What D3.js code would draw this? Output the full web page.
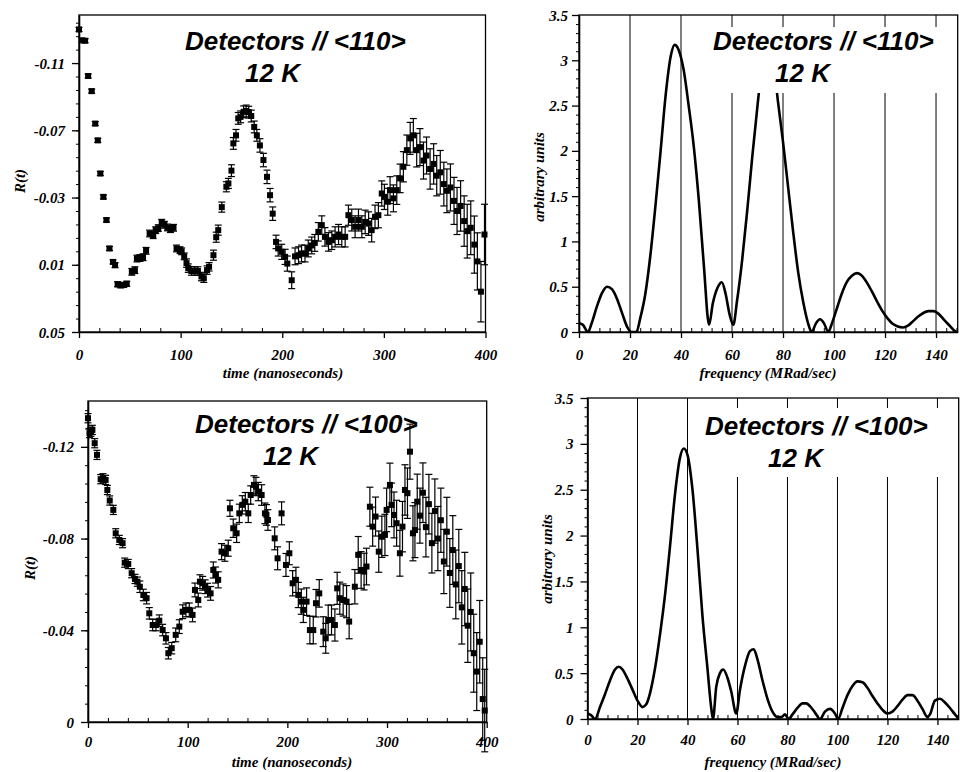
<!DOCTYPE html>
<html>
<head>
<meta charset="utf-8">
<script src="https://cdn.jsdelivr.net/npm/d3@7"></script>
<style>
  body { margin: 0; background: #fff; }
  svg { display: block; }
</style>
</head>
<body>
<svg id="chart" width="960" height="772"></svg>
<script>
// ---------- Detectors // <110>, 12 K : R(t) with error bars ----------
const tlTime = [0,3,6,9,12.5,16,18.5,21,24,27,30,33.5,35.5,38,41,44,47,52,55,57,60,63,66,69.5,73,75.5,78,81.4,84,87,90,93,96,99.4,101,103.5,105.8,107.5,110.6,114,117,120.5,122.8,126,128,132.3,135,137,140.5,145,147,150,151.9,154.5,156.7,159,162,164.5,167,169.5,172.4,175,178,181.5,185,188,190.6,193.9,196,199.5,202.8,205,209.3,212.6,216,219,222.4,225.6,229,232,235.5,238.9,242,245.5,248.8,252,255.4,258.6,261.9,265.1,268.4,271.7,275,278.3,281.6,285,288,291.3,294.6,297.9,300.5,303.8,306.1,309.4,312.7,316,319.2,322.6,325.9,329,332.3,335.5,339,342,345.5,349,352,355.5,359,362,365.5,369,372,375.5,379,382,385.5,389,392,395.5,399];
const tlR = [-0.130,-0.1235,-0.1233,-0.1023,-0.0933,-0.074,-0.064,-0.0443,-0.0304,-0.0166,0.0003,0.0083,0.0102,0.0216,0.0222,0.022,0.0213,0.0142,0.0132,0.0063,0.006,0.0055,0.0017,-0.0086,-0.0076,-0.0106,-0.0118,-0.015,-0.0138,-0.0122,-0.0112,-0.012,0.0003,0.0013,0.002,0.005,0.009,0.012,0.0137,0.0137,0.0137,0.017,0.018,0.0132,0.0112,0.0043,-0.0064,-0.0106,-0.0243,-0.0364,-0.0384,-0.046,-0.0622,-0.067,-0.0771,-0.078,-0.081,-0.0815,-0.0808,-0.0785,-0.072,-0.067,-0.061,-0.0523,-0.0423,-0.0314,-0.0204,-0.0036,0.0003,0.0023,0.0053,0.0093,0.0192,0.005,0.0043,0.0033,0.0033,0.0003,-0.0015,-0.003,-0.0096,-0.0136,-0.0066,-0.0036,-0.0046,-0.0066,-0.008,-0.0066,-0.0066,-0.0195,-0.0166,-0.0126,-0.0166,-0.0126,-0.0155,-0.0145,-0.0106,-0.0185,-0.0195,-0.0324,-0.0304,-0.0275,-0.0344,-0.0295,-0.0344,-0.0414,-0.0483,-0.0582,-0.0652,-0.067,-0.0582,-0.060,-0.052,-0.055,-0.047,-0.050,-0.043,-0.045,-0.038,-0.034,-0.036,-0.028,-0.022,-0.025,-0.016,-0.010,-0.012,-0.002,0.008,0.026,-0.008];
const tlErr = [0.0012,0.0012,0.0012,0.0012,0.0012,0.0012,0.0012,0.0012,0.0012,0.0012,0.0012,0.0012,0.0015,0.0015,0.0015,0.0015,0.0015,0.002,0.002,0.002,0.002,0.002,0.002,0.002,0.002,0.002,0.002,0.002,0.002,0.002,0.002,0.002,0.002,0.002,0.002,0.002,0.0025,0.0025,0.0025,0.0025,0.0025,0.0025,0.0025,0.0025,0.0025,0.003,0.003,0.003,0.003,0.003,0.003,0.0035,0.0035,0.0035,0.0035,0.0035,0.0035,0.0035,0.0035,0.0035,0.0035,0.0035,0.004,0.004,0.004,0.004,0.004,0.004,0.0045,0.0045,0.0045,0.0045,0.005,0.005,0.005,0.005,0.005,0.005,0.005,0.005,0.0055,0.0055,0.0055,0.0055,0.0055,0.006,0.006,0.006,0.006,0.006,0.0065,0.0065,0.0065,0.0065,0.007,0.007,0.007,0.007,0.0075,0.0075,0.0075,0.008,0.008,0.008,0.0085,0.0085,0.009,0.009,0.0095,0.01,0.01,0.011,0.011,0.011,0.012,0.012,0.012,0.013,0.013,0.013,0.014,0.014,0.014,0.015,0.015,0.016,0.016,0.017,0.017,0.018,0.018];

// ---------- Detectors // <100>, 12 K : R(t) with error bars ----------
const blTime = [0,1.5,3,4.4,6.7,9,12.7,15,17.7,19.4,21.8,25.4,27.8,31.4,34.7,36.8,40.4,43.8,47.1,49.5,52,55.5,58.8,61.5,64.9,68.2,71.5,74.9,78.2,80.6,84,88,91.6,95,98.3,101.6,104.9,107.3,110.6,112.3,115,117.5,120,123,125.7,128,130.6,134,137.3,140.7,142.4,145.7,149.1,151.8,154.8,157.8,160.8,163.2,166.5,168.5,170.8,174.2,177.5,179,180.5,187.3,190.2,194.2,198.6,202,205.3,208.6,211,214,216,219.3,222.6,226,228.7,232,236,238.5,241,244.3,247.7,250,252.6,256,259.4,262,267.7,271.1,274,277,279.4,282.8,285.6,288.5,291.7,294.8,297.9,299.6,302.9,304.6,307,309.6,312.9,315.5,318,320.5,323,326,328,330.3,333,336,339,342,345,348,351,354,357,360,363,366,369,372,375,378,381,384,387,390,393,396,398];
const blR = [-0.1325,-0.126,-0.1266,-0.1274,-0.1216,-0.1165,-0.1059,-0.1063,-0.1056,-0.1012,-0.0966,-0.0925,-0.0823,-0.0794,-0.078,-0.0695,-0.0689,-0.0649,-0.0624,-0.0612,-0.059,-0.0554,-0.054,-0.0474,-0.0423,-0.0423,-0.0442,-0.0401,-0.0365,-0.030,-0.0322,-0.038,-0.0416,-0.0481,-0.0489,-0.0489,-0.0467,-0.0576,-0.0532,-0.0612,-0.0605,-0.059,-0.0575,-0.0561,-0.0663,-0.0641,-0.062,-0.0743,-0.0736,-0.0758,-0.0932,-0.0845,-0.0823,-0.091,-0.0947,-0.0961,-0.091,-0.099,-0.1034,-0.1027,-0.1005,-0.099,-0.091,-0.0903,-0.0881,-0.0801,-0.0714,-0.091,-0.0685,-0.0736,-0.0605,-0.062,-0.0554,-0.0525,-0.0489,-0.0525,-0.0401,-0.0401,-0.0518,-0.0561,-0.0394,-0.0365,-0.0445,-0.0445,-0.0423,-0.0583,-0.054,-0.0532,-0.0525,-0.0438,-0.059,-0.0729,-0.0663,-0.0656,-0.0678,-0.0939,-0.0852,-0.0896,-0.0743,-0.0808,-0.0816,-0.0925,-0.1034,-0.0947,-0.0903,-0.0867,-0.0736,-0.0852,-0.1012,-0.0998,-0.1179,-0.0823,-0.0837,-0.0961,-0.090,-0.100,-0.085,-0.095,-0.078,-0.092,-0.080,-0.088,-0.070,-0.083,-0.065,-0.075,-0.060,-0.068,-0.050,-0.058,-0.042,-0.048,-0.030,-0.022,-0.035,-0.010,-0.005];
const blErr = [0.002,0.002,0.002,0.002,0.002,0.002,0.002,0.002,0.002,0.002,0.002,0.002,0.002,0.002,0.002,0.002,0.002,0.002,0.002,0.002,0.0025,0.0025,0.0025,0.0025,0.0025,0.0025,0.0025,0.0025,0.0025,0.0025,0.0025,0.003,0.003,0.003,0.003,0.003,0.003,0.003,0.003,0.003,0.003,0.003,0.003,0.003,0.0035,0.0035,0.0035,0.0035,0.0035,0.0035,0.0035,0.004,0.004,0.004,0.004,0.004,0.004,0.004,0.004,0.004,0.004,0.0045,0.0045,0.0045,0.0045,0.005,0.005,0.005,0.005,0.005,0.0055,0.0055,0.0055,0.0055,0.0055,0.006,0.006,0.006,0.006,0.006,0.0065,0.0065,0.0065,0.0065,0.007,0.007,0.007,0.007,0.007,0.0075,0.0075,0.008,0.008,0.008,0.008,0.0085,0.0085,0.0085,0.009,0.009,0.009,0.0095,0.0095,0.0095,0.01,0.01,0.01,0.011,0.011,0.011,0.012,0.012,0.012,0.012,0.012,0.013,0.013,0.013,0.013,0.014,0.014,0.014,0.014,0.015,0.015,0.015,0.015,0.016,0.016,0.016,0.016,0.017,0.017,0.017,0.018,0.018,0.018];

// ---------- Fourier spectra ----------
const freq110 = [0,1.5,3.5,5,7,9,11,13,15,17,19,20.5,22.5,24,26,28,30,32,34,36,37.5,39,41,43,45,47,49,51,52.5,54.5,56,57.5,59,60.5,62,64,66,68,70,72,74,76,78,80,82,84,86,88,90,91.2,93,94.5,96,97.8,99,101,103,105,107,109,111,113,115,117,119,121,123,125,127,129,131,133,135,137,139,141,143,145,147,148];
const amp110  = [0.1,0.08,0.0,0.1,0.28,0.43,0.5,0.47,0.36,0.2,0.05,0.0,0.0,0.15,0.42,0.85,1.4,2.0,2.62,3.05,3.17,3.12,2.9,2.5,2.05,1.45,0.72,0.08,0.32,0.5,0.55,0.42,0.2,0.08,0.35,0.8,1.35,1.95,2.5,3.0,3.25,3.05,2.55,2.1,1.6,1.1,0.65,0.32,0.08,0.0,0.1,0.14,0.1,0.0,0.08,0.25,0.42,0.55,0.62,0.65,0.62,0.54,0.44,0.33,0.23,0.15,0.09,0.06,0.05,0.07,0.12,0.17,0.21,0.23,0.23,0.2,0.14,0.08,0.02,0.0];
const freq100 = [0,1.5,3,5,7,9,11,12.5,14,16,18,20,22,23.5,25,27,29,31,33,35,37,38.5,40,42,44,46,48,49.5,50.2,51.5,53,54.3,56,57.5,59.5,61,63,65,66.5,68,70,72,74,76,77.5,79,80.5,82,84,86,87.5,89,91,93,95,97,99,100.3,102,104,106,108,110,112,114,116,118,120,122,124,126,128,130,132,134,136,137,139,141,143,145,147,148.5];
const amp100  = [0.06,0.04,0.0,0.13,0.27,0.42,0.54,0.57,0.54,0.44,0.32,0.2,0.13,0.16,0.28,0.55,0.92,1.35,1.88,2.45,2.85,2.95,2.88,2.5,1.85,1.12,0.55,0.12,0.0,0.35,0.5,0.54,0.45,0.3,0.06,0.32,0.58,0.74,0.76,0.65,0.42,0.22,0.08,0.02,0.02,0.05,0.0,0.05,0.12,0.17,0.17,0.14,0.07,0.0,0.08,0.11,0.06,0.0,0.12,0.26,0.36,0.41,0.4,0.34,0.25,0.17,0.1,0.06,0.08,0.14,0.21,0.26,0.26,0.2,0.11,0.02,0.05,0.2,0.22,0.18,0.12,0.05,0.0];

// ---------- axis ticks and labels ----------
const timeTicks = [0, 100, 200, 300, 400];
const timeTickLabels = ["0", "100", "200", "300", "400"];
const r110Ticks = [-0.11, -0.07, -0.03, 0.01, 0.05];
const r110TickLabels = ["-0.11", "-0.07", "-0.03", "0.01", "0.05"];
const r100Ticks = [0, -0.04, -0.08, -0.12];
const r100TickLabels = ["0", "-0.04", "-0.08", "-0.12"];
const freqTicks = [0, 20, 40, 60, 80, 100, 120, 140];
const freqTickLabels = ["0", "20", "40", "60", "80", "100", "120", "140"];
const ampTicks = [0, 0.5, 1, 1.5, 2, 2.5, 3, 3.5];
const ampTickLabels = ["0", "0.5", "1", "1.5", "2", "2.5", "3", "3.5"];
const gridFreqs = [20, 40, 60, 80, 100, 120, 140];

const SERIF = '"Liberation Serif","Times New Roman",serif';
const SANS = '"Liberation Sans",Arial,sans-serif';
const svg = d3.select("#chart");

function minorValues(lo, hi, start, step) {
  const out = [];
  for (let v = start; v <= hi + 1e-9; v += step) if (v >= lo - 1e-9) out.push(+v.toFixed(6));
  return out;
}

function styleText(sel, size) {
  sel.attr("font-family", SERIF).attr("font-weight", "bold").attr("font-style", "italic")
     .attr("font-size", size).attr("fill", "#000");
}

// frame, axes, tick marks and axis titles of one panel
function panelFrame(g, x, y, o) {
  const [x0, x1] = x.range();
  const yb = y.range()[0], yt = y.range()[1];
  g.append("rect").attr("x", x0).attr("y", yt).attr("width", x1 - x0).attr("height", yb - yt)
    .attr("fill", "none").attr("stroke", "#000").attr("stroke-width", 1.3);

  // bottom axis
  const bx = g.append("g").attr("transform", `translate(0,${yb})`)
    .call(d3.axisBottom(x).tickValues(o.xTicks).tickSizeInner(6).tickSizeOuter(0)
      .tickFormat((d, i) => o.xLabels[i]));
  bx.select(".domain").attr("stroke-width", 1.6);
  bx.selectAll(".tick line").attr("stroke-width", 1.3);
  bx.selectAll(".tick text").attr("y", o.xLabelY).attr("dy", null).call(styleText, 15);
  g.append("g").attr("transform", `translate(0,${yb})`)
    .call(d3.axisBottom(x).tickValues(o.xMinor).tickSizeInner(-4).tickSizeOuter(0).tickFormat(""))
    .call(s => s.select(".domain").remove())
    .selectAll("line").attr("stroke-width", 1);

  // left axis
  const ly = g.append("g").attr("transform", `translate(${x0},0)`)
    .call(d3.axisLeft(y).tickValues(o.yTicks).tickSizeInner(7).tickSizeOuter(0)
      .tickFormat((d, i) => o.yLabels[i]));
  ly.select(".domain").attr("stroke-width", 1.6);
  ly.selectAll(".tick line").attr("stroke-width", 1.3);
  ly.selectAll(".tick text").attr("x", -o.yLabelGap).attr("dy", "0.34em").call(styleText, 15);
  g.append("g").attr("transform", `translate(${x0},0)`)
    .call(d3.axisLeft(y).tickValues(o.yMinor).tickSizeInner(3).tickSizeOuter(0).tickFormat(""))
    .call(s => s.select(".domain").remove())
    .selectAll("line").attr("stroke-width", 1);

  // axis titles
  g.append("text").attr("x", o.xTitlePos[0]).attr("y", o.xTitlePos[1])
    .attr("text-anchor", "middle").text(o.xTitle).call(styleText, 15);
  g.append("text").attr("transform", `translate(${o.yTitlePos[0]},${o.yTitlePos[1]}) rotate(-90)`)
    .attr("text-anchor", "middle").text(o.yTitle).call(styleText, 15);
}

function panelTitle(g, lines) {
  lines.forEach(l => {
    g.append("text").attr("x", l.x).attr("y", l.y).text(l.text)
      .attr("font-family", SANS).attr("font-weight", "bold").attr("font-style", "italic")
      .attr("font-size", 26).attr("fill", "#000");
  });
}

// decay curve: square markers with vertical error bars
function drawDecay(g, x, y, ts, rs, es) {
  const pts = ts.map((t, i) => ({ t, r: rs[i], e: es[i] }));
  const bars = g.append("g").attr("stroke", "#000").attr("stroke-width", 1.2);
  pts.forEach(p => {
    const cx = x(p.t), ya = y(p.r - p.e), yb = y(p.r + p.e);
    bars.append("line").attr("x1", cx).attr("x2", cx).attr("y1", ya).attr("y2", yb);
    bars.append("line").attr("x1", cx - 3.5).attr("x2", cx + 3.5).attr("y1", ya).attr("y2", ya);
    bars.append("line").attr("x1", cx - 3.5).attr("x2", cx + 3.5).attr("y1", yb).attr("y2", yb);
  });
  g.append("g").selectAll("rect").data(pts).join("rect")
    .attr("x", d => x(d.t) - 3).attr("y", d => y(d.r) - 3)
    .attr("width", 6).attr("height", 6).attr("fill", "#000");
}

// spectrum: grid lines, the amplitude curve and a white plate behind the title
function drawSpectrum(g, x, y, fs, as, plate, clipId) {
  const [x0, x1] = x.range();
  const yb = y.range()[0], yt = y.range()[1];
  g.append("g").selectAll("line").data(gridFreqs).join("line")
    .attr("x1", d => x(d)).attr("x2", d => x(d)).attr("y1", yt).attr("y2", yb)
    .attr("stroke", "#000").attr("stroke-width", 1);
  g.append("clipPath").attr("id", clipId).append("rect")
    .attr("x", x0).attr("y", yt).attr("width", x1 - x0).attr("height", yb - yt);
  const line = d3.line().x(d => x(d[0])).y(d => y(d[1])).curve(d3.curveMonotoneX);
  g.append("path").datum(fs.map((f, i) => [f, as[i]]))
    .attr("d", line).attr("fill", "none").attr("stroke", "#000").attr("stroke-width", 2.6)
    .attr("stroke-linejoin", "round").attr("clip-path", `url(#${clipId})`);
  g.append("rect").attr("x", plate[0]).attr("y", plate[1]).attr("width", plate[2]).attr("height", plate[3])
    .attr("fill", "#fff");
}

// ----- top left -----
{
  const g = svg.append("g");
  const x = d3.scaleLinear().domain([0, 400]).range([79, 485.5]);
  const y = d3.scaleLinear().domain([0.05, -0.1386]).range([332, 15]);
  drawDecay(g, x, y, tlTime, tlR, tlErr);
  panelFrame(g, x, y, {
    xTicks: timeTicks, xLabels: timeTickLabels, xMinor: minorValues(0, 400, 0, 20).filter(v => v % 100),
    yTicks: r110Ticks, yLabels: r110TickLabels,
    yMinor: minorValues(-0.1386, 0.05, -0.134, 0.008),
    xLabelY: 28, yLabelGap: 14,
    xTitle: "time (nanoseconds)", xTitlePos: [283, 378],
    yTitle: "R(t)", yTitlePos: [25, 181]
  });
  panelTitle(g, [{ text: "Detectors // <110>", x: 185, y: 50 }, { text: "12 K", x: 245, y: 82 }]);
}

// ----- bottom left -----
{
  const g = svg.append("g");
  const x = d3.scaleLinear().domain([0, 400]).range([88, 486.7]);
  const y = d3.scaleLinear().domain([0, -0.14]).range([722, 401]);
  drawDecay(g, x, y, blTime, blR, blErr);
  panelFrame(g, x, y, {
    xTicks: timeTicks, xLabels: timeTickLabels, xMinor: minorValues(0, 400, 0, 20).filter(v => v % 100),
    yTicks: r100Ticks, yLabels: r100TickLabels,
    yMinor: minorValues(-0.14, 0, -0.136, 0.008),
    xLabelY: 25, yLabelGap: 14,
    xTitle: "time (nanoseconds)", xTitlePos: [292, 767],
    yTitle: "R(t)", yTitlePos: [35, 568]
  });
  panelTitle(g, [{ text: "Detectors // <100>", x: 195, y: 433 }, { text: "12 K", x: 263, y: 465 }]);
}

// ----- top right -----
{
  const g = svg.append("g");
  const x = d3.scaleLinear().domain([0, 148.5]).range([579, 957.7]);
  const y = d3.scaleLinear().domain([0, 3.5]).range([332, 15]);
  drawSpectrum(g, x, y, freq110, amp110, [700, 27, 256, 66], "clip110");
  panelFrame(g, x, y, {
    xTicks: freqTicks, xLabels: freqTickLabels, xMinor: minorValues(0, 148, 0, 4).filter(v => v % 20),
    yTicks: ampTicks, yLabels: ampTickLabels,
    yMinor: minorValues(0, 3.5, 0, 0.1).filter(v => Math.abs(v * 2 - Math.round(v * 2)) > 1e-6),
    xLabelY: 28, yLabelGap: 11,
    xTitle: "frequency (MRad/sec)", xTitlePos: [768, 378],
    yTitle: "arbitrary units", yTitlePos: [544, 177]
  });
  panelTitle(g, [{ text: "Detectors // <110>", x: 713, y: 50 }, { text: "12 K", x: 775, y: 82 }]);
}

// ----- bottom right -----
{
  const g = svg.append("g");
  const x = d3.scaleLinear().domain([0, 148.5]).range([587.5, 958.7]);
  const y = d3.scaleLinear().domain([0, 3.5]).range([719, 398]);
  drawSpectrum(g, x, y, freq100, amp100, [698, 408, 259, 69], "clip100");
  panelFrame(g, x, y, {
    xTicks: freqTicks, xLabels: freqTickLabels, xMinor: minorValues(0, 148, 0, 4).filter(v => v % 20),
    yTicks: ampTicks, yLabels: ampTickLabels,
    yMinor: minorValues(0, 3.5, 0, 0.1).filter(v => Math.abs(v * 2 - Math.round(v * 2)) > 1e-6),
    xLabelY: 26, yLabelGap: 14,
    xTitle: "frequency (MRad/sec)", xTitlePos: [773, 767],
    yTitle: "arbitrary units", yTitlePos: [552, 559]
  });
  panelTitle(g, [{ text: "Detectors // <100>", x: 705, y: 435 }, { text: "12 K", x: 768, y: 467 }]);
}
</script>
</body>
</html>
